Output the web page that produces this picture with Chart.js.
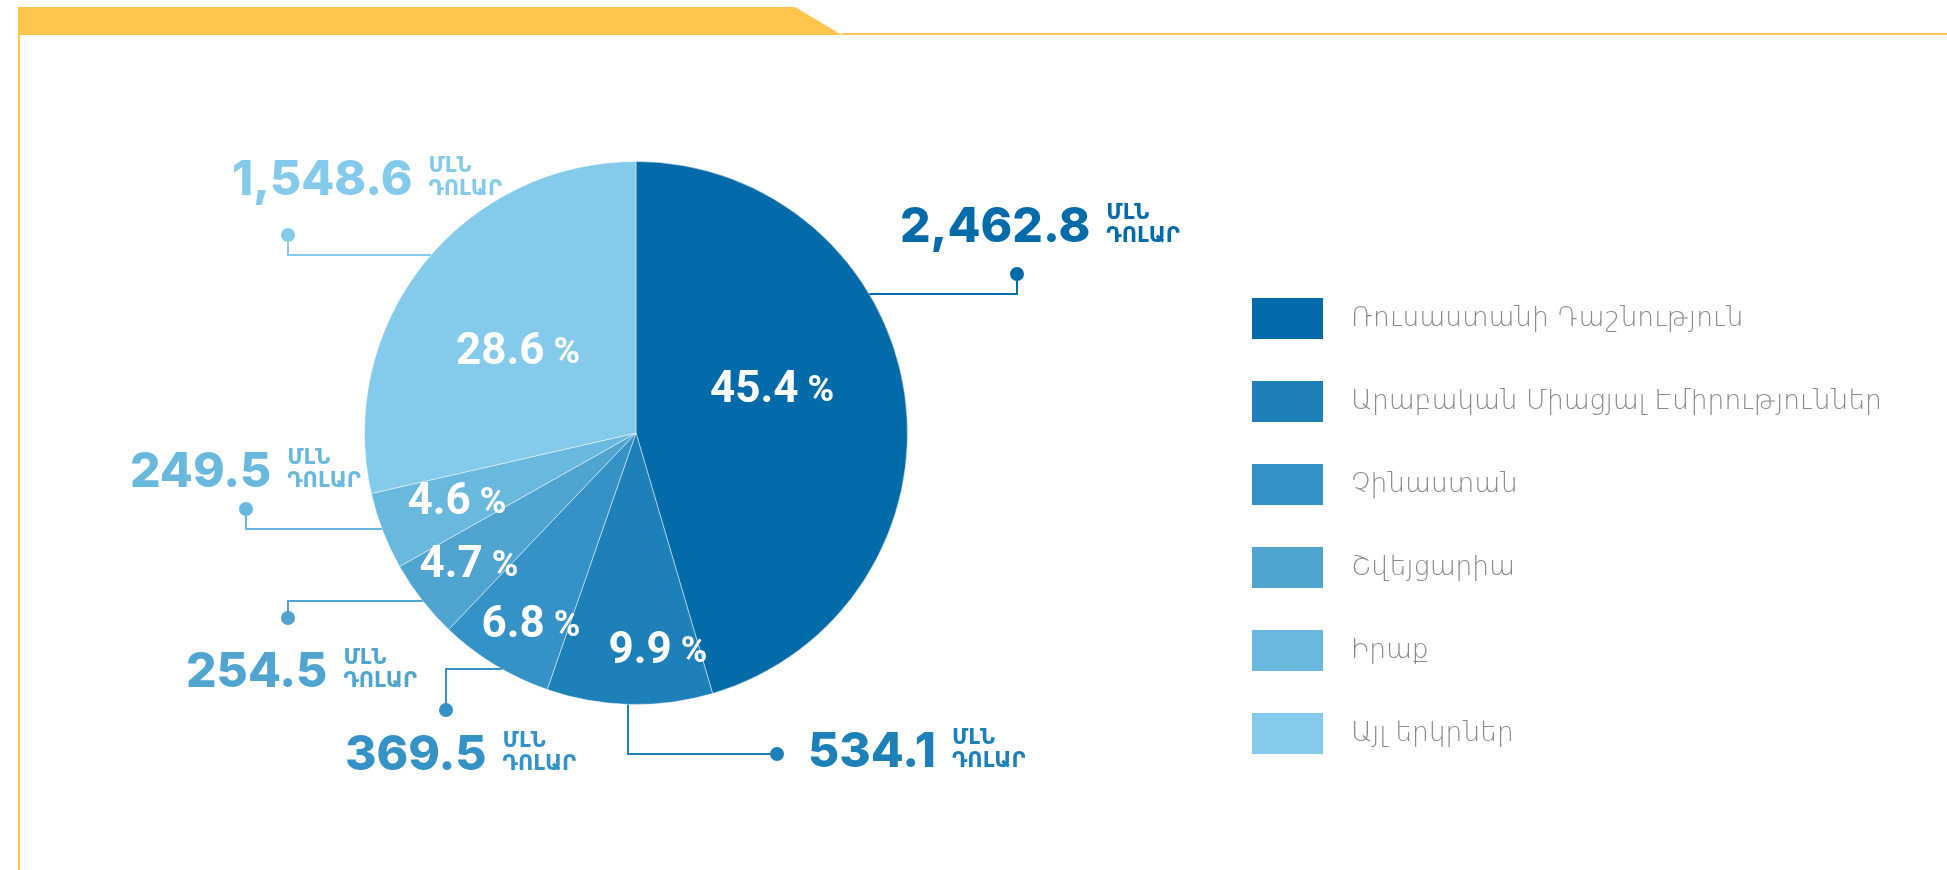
<!DOCTYPE html>
<html>
<head>
<meta charset="utf-8">
<script src="https://cdn.jsdelivr.net/npm/chart.js@4"></script>
<style>
body{margin:0;background:#fff;}
#wrap{width:1947px;height:870px;}
</style>
</head>
<body>
<div id="wrap"><canvas id="pie" width="1947" height="870"></canvas></div>
<script>
// data (mln USD)
const countries=["Ռուսաստանի Դաշնություն","Արաբական Միացյալ Էմիրություններ","Չինաստան","Շվեյցարիա","Իրաք","Այլ երկրներ"];
const valuesMln=[2462.8,534.1,369.5,254.5,249.5,1548.6];
const unitLines=["ՄԼՆ","ԴՈԼԱՐ"];
const colors=["#036baa","#1d80b8","#3592c6","#4fa4d0","#69b8de","#84caea"];

// where the callouts sit (page px)
const valuePos=[[900,242],[808,767],[345,770],[186,687],[130,487],[232,195]];
// leader: dot, corner, then run to the pie edge ('h' = horizontal, 'v' = vertical)
const leaders=[
{dot:[1017,274],corner:[1017,294],run:"h"},
{dot:[777,754],corner:[628,754],run:"v"},
{dot:[446,710],corner:[446,669],run:"h"},
{dot:[288,618],corner:[288,601],run:"h"},
{dot:[246,509],corner:[246,529],run:"h"},
{dot:[288,235],corner:[288,255],run:"h"}
];
// percent label offset from pie centre
const pctOffset=[[136,-42],[22,219],[-105,193],[-167,133],[-179,70],[-118,-80]];

const total=valuesMln.reduce((a,b)=>a+b,0);
const YELLOW="#ffc54d";

const frame={
id:"frame",
beforeDraw(c){
let x=c.ctx;
x.save();
x.fillStyle=YELLOW;
x.beginPath();
x.moveTo(18,7);x.lineTo(795,7);x.lineTo(842,35);x.lineTo(18,35);x.closePath();
x.fill();
x.fillRect(842,33,1947-842,2);
x.fillRect(18,35,2,835);
x.restore();
}
};

const callouts={
id:"callouts",
afterDatasetsDraw(c){
let x=c.ctx;
let arcs=c.getDatasetMeta(0).data;
let cx=arcs[0].x,cy=arcs[0].y,r=arcs[0].outerRadius;
x.save();

// percent labels
arcs.forEach((a,i)=>{
let pct=(valuesMln[i]/total*100).toFixed(1);
let px=cx+pctOffset[i][0],py=cy+pctOffset[i][1];
x.fillStyle="#fff";
x.textBaseline="middle";
x.font="bold 44px Roboto";
let w1=x.measureText(pct).width;
x.font="bold 36px Roboto";
let w2=x.measureText(" %").width;
let sx=px-(w1+w2)/2;
x.font="bold 44px Roboto";
x.textAlign="left";
x.fillText(pct,sx,py);
x.font="bold 36px Roboto";
x.fillText(" %",sx+w1,py+1);
});

// leaders
leaders.forEach((l,i)=>{
let [dx,dy]=l.dot,[kx,ky]=l.corner,ex,ey;
if(l.run==="h"){
let off=Math.sqrt(Math.max(r*r-(ky-cy)*(ky-cy),0));
ex=kx<cx?cx-off:cx+off;ey=ky;
}else{
let off=Math.sqrt(Math.max(r*r-(kx-cx)*(kx-cx),0));
ey=ky>cy?cy+off:cy-off;ex=kx;
}
x.strokeStyle=colors[i];
x.fillStyle=colors[i];
x.lineWidth=2;
x.beginPath();
x.moveTo(dx,dy);x.lineTo(kx,ky);x.lineTo(ex,ey);
x.stroke();
x.beginPath();
x.arc(dx,dy,7,0,Math.PI*2);
x.fill();
});

// value labels
valuesMln.forEach((v,i)=>{
let txt=v.toLocaleString("en-US",{minimumFractionDigits:1,maximumFractionDigits:1});
let [tx,ty]=valuePos[i];
x.fillStyle=colors[i];
x.textAlign="left";
x.textBaseline="alphabetic";
x.font="800 48px Inter";
x.fillText(txt,tx,ty);
let w=x.measureText(txt).width;
x.font="bold 21px 'DejaVu Sans'";
x.fillText(unitLines[0],tx+w+16,ty-23);
x.fillText(unitLines[1],tx+w+16,ty);
});

// legend
countries.forEach((n,i)=>{
let y=298+i*83;
x.fillStyle=colors[i];
x.fillRect(1252,y,71,41);
x.fillStyle="#8a8a8a";
x.font="300 26.5px 'DejaVu Sans'";
x.textBaseline="middle";
x.fillText(n,1351,y+21);
});
x.restore();
}
};

new Chart(document.getElementById("pie"),{
type:"pie",
data:{
labels:countries,
datasets:[{data:valuesMln,backgroundColor:colors,borderColor:"rgba(255,255,255,0.45)",borderWidth:1}]
},
options:{
responsive:false,
animation:false,
layout:{padding:{left:364,top:161,right:1039,bottom:165}},
plugins:{legend:{display:false},tooltip:{enabled:false}}
},
plugins:[frame,callouts]
});
</script>
</body>
</html>
